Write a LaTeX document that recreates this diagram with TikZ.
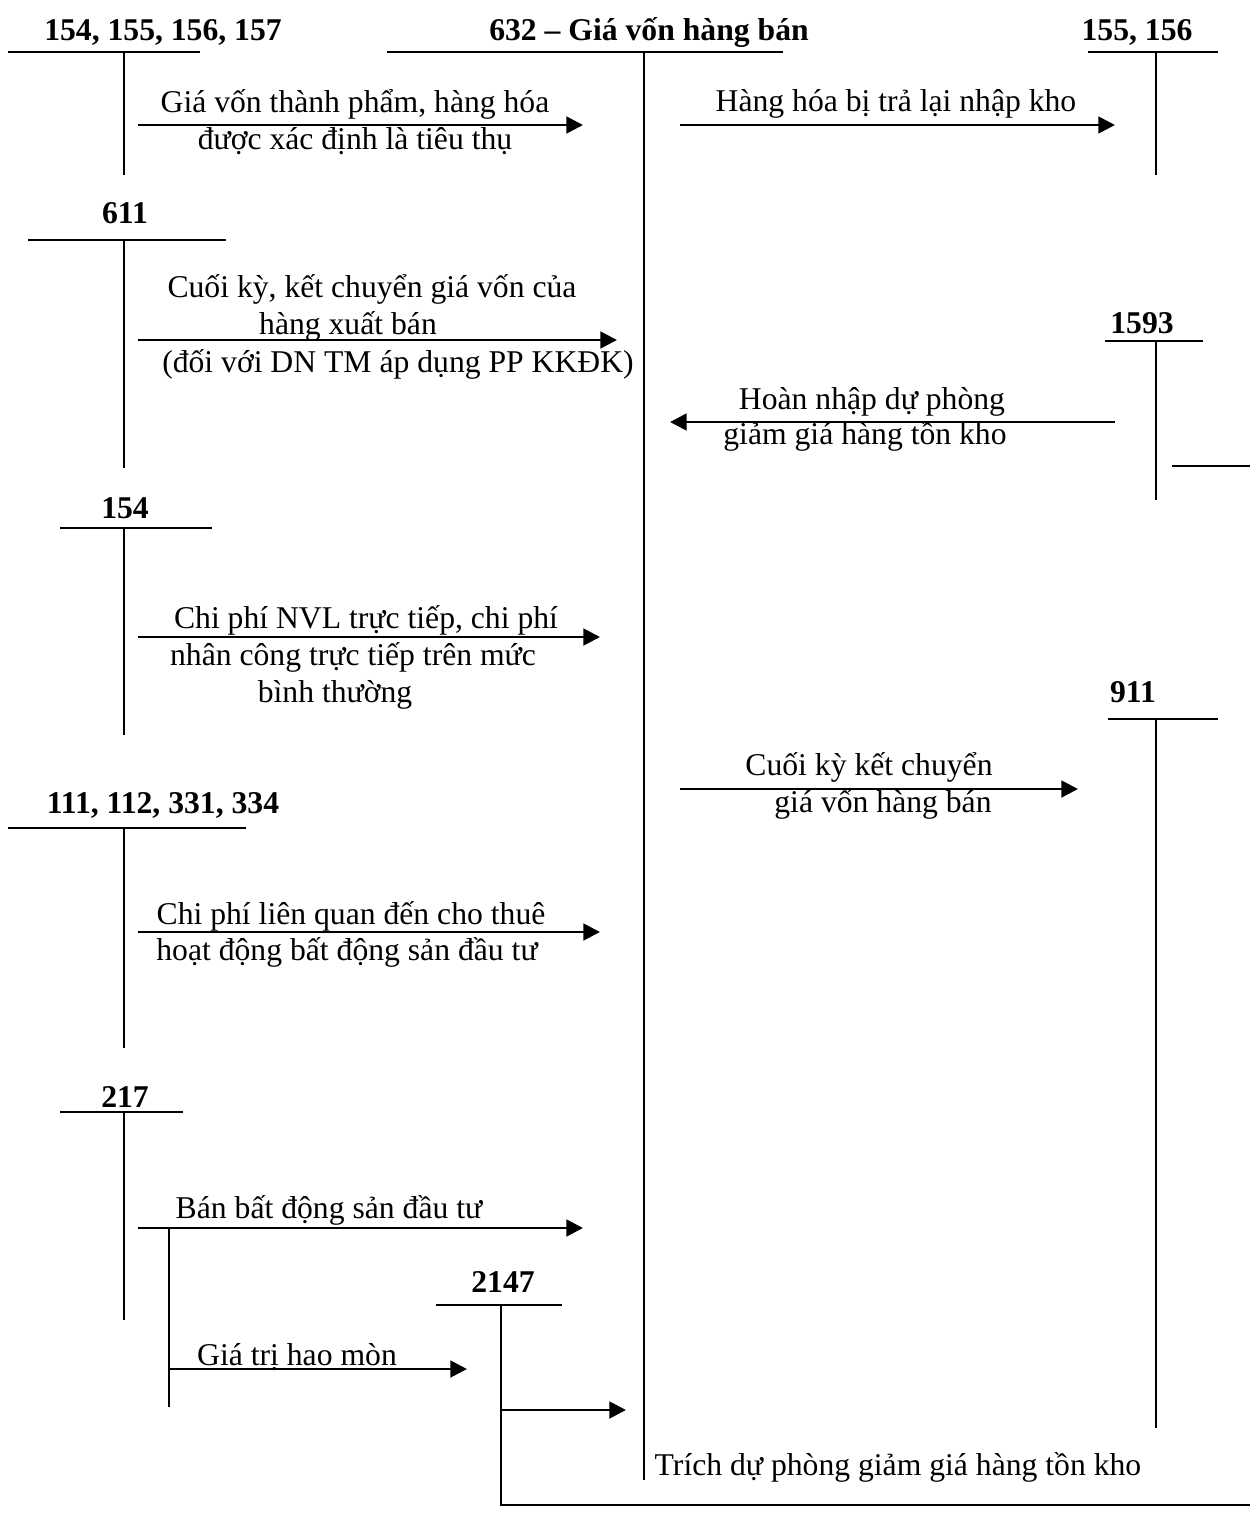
\documentclass[tikz,border=0pt]{standalone}
\usepackage{fontspec}
\setmainfont{Liberation Serif}
\usetikzlibrary{arrows.meta,positioning}

\begin{document}
\begin{tikzpicture}[
    x=0.6pt, y=-0.6pt,
    acct/.style={font=\fontsize{19}{22}\selectfont\bfseries, inner sep=0pt, anchor=base},
    note/.style={font=\fontsize{19}{22}\selectfont, inner sep=0pt, anchor=base},
    tline/.style={line width=1.1pt},
    arrow/.style={-{Triangle[length=10pt,width=10pt]}, line width=1.7pt}
  ]
    \useasboundingbox (0,0) rectangle (1250,1539);

    % account heads
    \node[acct] (a1540) at (163,40) {154, 155, 156, 157};
    \node[acct] (a632) at (649,40) {632 -- Giá vốn hàng bán};
    \node[acct] (a155) at (1137,40) {155, 156};
    \node[acct] (a611) at (125,223) {611};
    \node[acct] (a1593) at (1142,333) {1593};
    \node[acct] (a154) at (125,518) {154};
    \node[acct] (a911) at (1133,702) {911};
    \node[acct] (a111) at (163,813) {111, 112, 331, 334};
    \node[acct] (a217) at (125,1107) {217};
    \node[acct] (a2147) at (503,1292) {2147};

    % T lines
    \draw[tline] (8,52) -- (200,52) (124,52) -- (124,175);
    \draw[tline] (387,52) -- (783,52) (644,52) -- (644,1480);
    \draw[tline] (1088,52) -- (1218,52) (1156,52) -- (1156,175);
    \draw[tline] (28,240) -- (226,240) (124,240) -- (124,468);
    \draw[tline] (1105,341) -- (1203,341) (1156,341) -- (1156,500);
    \draw[tline] (1172,466) -- (1250,466);
    \draw[tline] (60,528) -- (212,528) (124,528) -- (124,735);
    \draw[tline] (1108,719) -- (1218,719) (1156,719) -- (1156,1428);
    \draw[tline] (8,828) -- (246,828) (124,828) -- (124,1048);
    \draw[tline] (60,1112) -- (183,1112) (124,1112) -- (124,1320);
    \draw[tline] (436,1305) -- (562,1305) (501,1305) -- (501,1410);

    % arrow ends
    \coordinate (s1) at (138,125);  \coordinate (e1) at (583,125);
    \coordinate (s2) at (680,125);  \coordinate (e2) at (1115,125);
    \coordinate (s3) at (138,340);  \coordinate (e3) at (617,340);
    \coordinate (s4) at (1115,422); \coordinate (e4) at (670,422);
    \coordinate (s5) at (138,637);  \coordinate (e5) at (600,637);
    \coordinate (s6) at (680,789);  \coordinate (e6) at (1078,789);
    \coordinate (s7) at (138,932);  \coordinate (e7) at (600,932);
    \coordinate (s8) at (138,1228); \coordinate (e8) at (583,1228);
    \coordinate (b8) at (169,1228); \coordinate (f8) at (169,1407);
    \coordinate (s9) at (169,1369); \coordinate (e9) at (467,1369);
    \coordinate (s10) at (501,1410); \coordinate (e10) at (626,1410);
    \coordinate (d10) at (1250,1505);

    \draw[arrow] (s1) -- (e1);
    \draw[arrow] (s2) -- (e2);
    \draw[arrow] (s3) -- (e3);
    \draw[arrow] (s4) -- (e4);
    \draw[arrow] (s5) -- (e5);
    \draw[arrow] (s6) -- (e6);
    \draw[arrow] (s7) -- (e7);
    \draw[arrow] (s8) -- (e8);
    \draw[tline] (b8) -- (f8);
    \draw[arrow] (s9) -- (e9);
    \draw[arrow] (s10) -- (e10);
    \draw[tline] (s10) |- (d10);

    % labels
    \node[note] (t1a) at (355,112) {Giá vốn thành phẩm, hàng hóa};
    \node[note] (t1b) at (355,149) {được xác định là tiêu thụ};
    \node[note] (t2) at (896,111) {Hàng hóa bị trả lại nhập kho};
    \node[note] (t3a) at (372,297) {Cuối kỳ, kết chuyển giá vốn của};
    \node[note] (t3b) at (348,334) {hàng xuất bán};
    \node[note] (t3c) at (398,372) {(đối với DN TM áp dụng PP KKĐK)};
    \node[note] (t4a) at (872,409) {Hoàn nhập dự phòng};
    \node[note] (t4b) at (865,444) {giảm giá hàng tồn kho};
    \node[note] (t5a) at (366,628) {Chi phí NVL trực tiếp, chi phí};
    \node[note] (t5b) at (353,665) {nhân công trực tiếp trên mức};
    \node[note] (t5c) at (335,702) {bình thường};
    \node[note] (t6a) at (869,775) {Cuối kỳ kết chuyển};
    \node[note] (t6b) at (883,812) {giá vốn hàng bán};
    \node[note] (t7a) at (351,924) {Chi phí liên quan đến cho thuê};
    \node[note] (t7b) at (347,960) {hoạt động bất động sản đầu tư};
    \node[note] (t8) at (329,1218) {Bán bất động sản đầu tư};
    \node[note] (t9) at (297,1365) {Giá trị hao mòn};
    \node[note] (t10) at (898,1475) {Trích dự phòng giảm giá hàng tồn kho};
  \end{tikzpicture}
\end{document}
